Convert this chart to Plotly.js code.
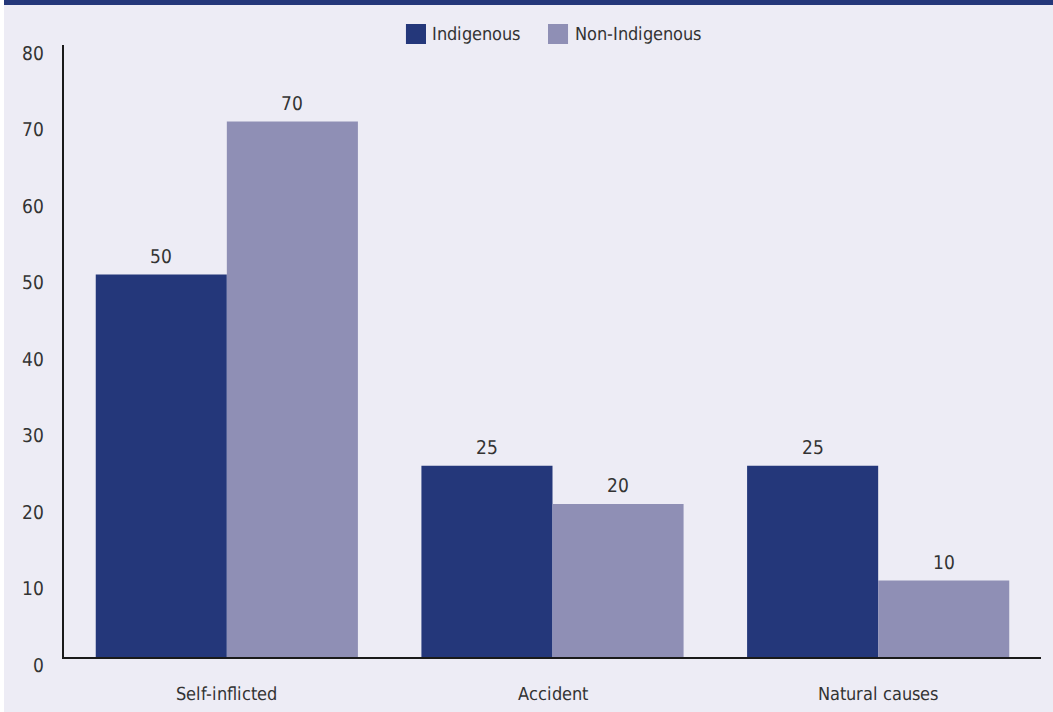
<!DOCTYPE html>
<html>
<head>
<meta charset="utf-8">
<script src="https://cdn.plot.ly/plotly-3.0.1.min.js"></script>
<style>
  @font-face { font-family: "CondFace"; src: local("Liberation Sans Narrow"), local("LiberationSansNarrow-Regular"), local("DejaVu Sans Condensed"), local("DejaVuSansCondensed"); }
  html, body { margin: 0; padding: 0; background: #ffffff; width: 1053px; height: 712px; overflow: hidden; }
  #chart { position: absolute; left: 4px; top: 0; width: 1049px; height: 707px; border-top: 5px solid #24377A; background: #EDECF5; }
</style>
</head>
<body>
<div id="chart"></div>
<script>
const categories = ["Self-inflicted", "Accident", "Natural causes"];
const seriesNames = ["Indigenous", "Non-Indigenous"];
const indigenous = [50, 25, 25];
const nonIndigenous = [70, 20, 10];
const yTicks = [0, 10, 20, 30, 40, 50, 60, 70, 80];

const colors = ["#24377A", "#8F8FB5"];
const FONT = '"CondFace", "Liberation Sans", sans-serif';
const TXT = "#333333";
const BARGAP = 0.195;

const seriesValues = [indigenous, nonIndigenous];
const traces = seriesValues.map((vals, i) => ({
  type: "bar",
  name: seriesNames[i],
  x: categories,
  y: vals,
  marker: { color: colors[i], line: { width: 0 } },
  hoverinfo: "skip",
  showlegend: false
}));

const shapes = [];
const annotations = [];

// value labels above bars
seriesValues.forEach((vals, s) => {
  const off = (s === 0 ? -1 : 1) * (1 - BARGAP) / 4;
  vals.forEach((v, i) => {
    annotations.push({
      xref: "x", yref: "y", x: i + off, y: v,
      xanchor: "center", yanchor: "bottom", yshift: 6, showarrow: false,
      text: String(v), font: { family: FONT, size: 19, color: TXT }
    });
  });
});

// manual legend (larger squares like reference)
const legendSquares = [[0.350, 0.3705], [0.4954, 0.5159]];
const legendTextX = [0.3747, 0.521];
seriesNames.forEach((n, i) => {
  shapes.push({
    type: "rect", xref: "paper", yref: "paper",
    x0: legendSquares[i][0], x1: legendSquares[i][1], y0: 1.0016, y1: 1.0343,
    fillcolor: colors[i], line: { width: 0 }
  });
  annotations.push({
    xref: "paper", yref: "paper", x: legendTextX[i], y: 1.018,
    xanchor: "left", yanchor: "middle", showarrow: false,
    text: n, font: { family: FONT, size: 18, color: TXT }
  });
});

const layout = {
  width: 1049, height: 707,
  margin: { l: 60, r: 12, t: 40, b: 55 },
  paper_bgcolor: "#EDECF5",
  plot_bgcolor: "#EDECF5",
  barmode: "group",
  bargap: BARGAP,
  bargroupgap: 0,
  font: { family: FONT, size: 18, color: TXT },
  xaxis: {
    type: "category",
    showline: true, linecolor: "#1a1a1a", linewidth: 2,
    ticks: "", showgrid: false, zeroline: false,
    ticklabelstandoff: 19,
    tickfont: { family: FONT, size: 18, color: TXT },
    fixedrange: true
  },
  yaxis: {
    range: [0, 80],
    tickvals: yTicks,
    ticktext: yTicks.map(String),
    showline: true, linecolor: "#1a1a1a", linewidth: 2,
    ticks: "", showgrid: false, zeroline: false,
    ticklabelstandoff: 14,
    ticklabelshift: 8,
    tickfont: { family: FONT, size: 19, color: TXT },
    fixedrange: true
  },
  shapes: shapes,
  annotations: annotations,
  showlegend: false
};

Plotly.newPlot("chart", traces, layout, { displayModeBar: false, staticPlot: true });
</script>
</body>
</html>
